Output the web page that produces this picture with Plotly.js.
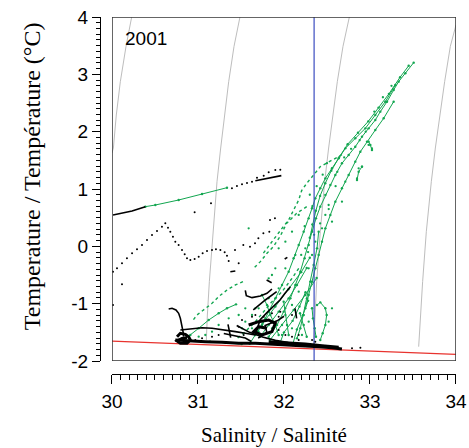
<!DOCTYPE html>
<html><head><meta charset="utf-8">
<script src="https://cdn.plot.ly/plotly-3.0.1.min.js"></script>
<style>html,body{margin:0;padding:0;background:#fff;}#plot{width:469px;height:448px;}</style>
</head><body><div id="plot"></div>
<script>
// Isopycnals (gray)
const isoS1 = [30.229,30.163,30.097,30.050,30.016,30.0];
const isoT1 = [4.0,3.488,2.872,2.291,1.715,1.628];
const isoS2 = [31.488,31.419,31.357,31.306,31.264,31.221,31.174,31.132,31.109,31.097];
const isoT2 = [4.0,3.488,2.872,2.291,1.715,1.128,0.256,-0.616,-1.198,-1.634];
const isoS3 = [32.760,32.686,32.620,32.566,32.519,32.473,32.422,32.380,32.357,32.345];
const isoT3 = [4.0,3.488,2.872,2.291,1.715,1.128,0.256,-0.616,-1.198,-1.721];
const isoS4 = [34.0,33.934,33.868,33.810,33.760,33.713,33.655,33.612,33.585,33.566];
const isoT4 = [3.86,3.488,2.872,2.291,1.715,1.128,0.256,-0.616,-1.198,-1.750];
// Freezing line and reference salinity
const frzS = [30, 34];
const frzT = [-1.655, -1.885];
const refS = [32.35, 32.35];
const refT = [-2, 4];
// Tick labels
const yTickVals = [-2,-1,0,1,2,3,4];
const yTickText = ['-2','-1','0','1','2','3','4'];
const xTickVals = [30,31,32,33,34];
const xTickText = ['30','31','32','33','34'];
// Green dense tracks (null separates tracks)
const gDenseS = [
 33.508,33.411,33.333,33.275,33.198,33.120,33.062,32.984,32.907,32.829,32.752,32.674,32.597,32.539,32.481,32.422,32.372,32.326,32.287,32.240,32.190,32.132,32.074,31.996,31.919,31.822,null,
 33.275,33.159,33.062,32.965,32.888,32.829,32.752,32.674,32.597,32.539,32.481,32.442,32.403,32.364,32.326,32.287,32.248,null,
 33.295,33.178,33.062,32.946,32.829,32.713,32.636,32.558,32.481,32.422,32.364,32.326,32.287,32.229,32.171,32.112,32.054,31.977,31.899,31.822,31.744,31.667,null,
 33.45,33.35,33.22,33.10,32.98,32.86,32.74,32.64,32.55,32.48,32.42,32.37,32.33,32.30,null,
 32.403,32.384,32.345,32.306,32.267,32.229,32.190,32.151,null,
 32.384,32.422,32.481,32.496,32.481,32.450,32.422,null,
 32.186,32.229,32.264,null,
 32.326,32.337,32.357,32.372,null,
 31.996,32.016,32.035,32.054,null,
 31.744,31.802,31.841,31.899,31.938,null,
 31.442,31.337,31.240,31.124,31.008,30.911,30.833,null,
 31.140,31.318,31.508,null,
 31.721,31.822,31.938,32.054,32.151,32.264,null,
 31.837,31.977,32.112,32.248,32.380,null,
 31.60,31.75,31.90,32.05,32.20,32.30,null,
 32.10,32.15,32.22,32.28,null,
 31.95,32.00,32.10,32.18,32.25,null,
 30.388,30.504,30.775,31.047,31.337,null,
 32.907,32.868,32.849,null,
 32.984,33.004,33.023
];
const gDenseT = [
 3.204,3.018,2.872,2.727,2.523,2.349,2.203,2.058,1.913,1.738,1.593,1.448,1.244,1.070,0.895,0.692,0.488,0.256,0.023,-0.209,-0.442,-0.674,-0.907,-1.139,-1.372,-1.576,null,
 2.523,2.233,2.029,1.826,1.651,1.477,1.244,1.012,0.779,0.547,0.314,0.082,-0.151,-0.384,-0.616,-0.849,-1.081,null,
 2.814,2.523,2.291,2.058,1.884,1.709,1.535,1.361,1.186,1.012,0.837,0.663,0.488,0.256,0.023,-0.209,-0.442,-0.674,-0.907,-1.139,-1.372,-1.546,null,
 3.15,2.95,2.66,2.42,2.18,1.98,1.78,1.55,1.32,1.10,0.88,0.62,0.38,0.15,null,
 0.256,-0.035,-0.325,-0.616,-0.907,-1.198,-1.430,-1.605,null,
 -1.023,-0.977,-1.081,-1.198,-1.372,-1.517,-1.634,null,
 -1.168,-1.372,-1.576,null,
 -1.081,-1.256,-1.430,-1.576,null,
 -0.965,-1.198,-1.372,-1.546,null,
 -0.849,-1.023,-1.198,-1.372,-1.546,null,
 -1.012,-1.081,-1.168,-1.285,-1.430,-1.546,-1.634,null,
 -1.663,-1.680,-1.704,null,
 -1.576,-1.372,-1.139,-0.907,-0.674,-0.378,null,
 -1.634,-1.372,-1.110,-0.849,-0.553,null,
 -1.70,-1.35,-1.05,-0.75,-0.45,-0.20,null,
 -1.72,-1.45,-1.20,-0.95,null,
 -1.70,-1.50,-1.30,-1.05,-0.80,null,
 0.692,0.721,0.808,0.913,1.023,null,
 1.390,1.302,1.157,null,
 1.826,1.768,1.680
];
// Green sparse (dotted) tracks
const gSparseS = [
 32.674,32.519,32.422,32.360,32.264,32.205,32.171,32.112,32.054,31.977,31.919,31.860,31.802,31.744,null,
 32.264,32.147,32.031,31.953,31.876,31.802,31.725,31.647,null,
 32.171,32.093,31.977,31.860,31.764,31.667,31.550,31.434,null,
 31.523,31.434,31.337,31.240,31.163,31.066,30.988,30.930
];
const gSparseT = [
 1.599,1.477,1.390,1.273,1.099,0.971,0.808,0.634,0.459,0.314,0.198,0.082,-0.035,-0.151,null,
 0.692,0.576,0.401,0.169,-0.006,-0.122,-0.267,-0.384,null,
 -0.384,-0.558,-0.791,-0.965,-1.139,-1.314,-1.488,-1.634,null,
 -0.616,-0.674,-0.762,-0.878,-0.994,-1.110,-1.198,-1.314
];
const gDotS = [33.023,32.984,32.868,32.849,32.907,32.713,32.674,32.558,32.171,32.093,32.016,31.938,31.899,31.822,32.016,32.132,32.248,32.364,32.481,32.519,32.442,32.326,32.287,32.171,32.093,31.822,31.705,31.628,31.550,31.512,31.667,31.783,32.016,31.938,31.860,31.550,31.473,31.357,31.240,31.163,31.085,31.008,31.628,31.705,32.558,32.519,32.287,32.209,32.093,31.977,31.860,31.589,
 32.30,32.38,32.45,32.52,32.60,32.35,32.42,32.28,32.50,32.62,32.70,32.78,32.88,32.95,33.05,33.15,33.25,32.33,32.24,32.20];
const gDotT = [1.709,1.768,1.361,1.186,1.390,1.128,0.779,0.430,0.547,0.256,0.082,-0.035,-0.384,-0.558,-0.384,-0.151,-0.035,0.082,0.547,0.721,0.314,-0.151,-0.384,-0.791,-1.023,-0.907,-1.081,-1.198,-1.314,-1.430,-1.081,-1.256,-1.081,-0.732,-0.500,-1.081,-1.198,-1.256,-1.372,-1.488,-1.546,-1.576,-1.430,-1.488,-1.081,-1.314,-1.314,-1.546,-1.430,-1.546,-1.430,0.314,
 0.90,1.05,1.25,0.65,1.05,0.20,0.40,-0.10,1.45,1.30,1.55,1.70,1.85,2.00,2.35,2.60,2.80,0.70,0.35,-0.15];
// Black tracks (thin)
const kLineS = [
 30.012,30.233,30.388,null,
 31.667,31.969,null,
 30.659,30.698,30.744,30.775,30.795,30.814,30.826,30.833,null,
 30.795,30.930,31.047,31.163,31.318,31.434,31.550,31.667,null,
 31.667,31.721,31.802,31.876,31.953,32.012,32.074,null,
 31.550,31.562,31.628,31.725,31.802,31.860,null,
 31.798,31.857,null,
 32.128,32.147,null,
 32.008,32.039,null,
 31.349,31.364,31.380,null,
 31.376,31.434,null,
 31.643,31.783,31.915,null,
 31.45,31.60,31.75,31.90,32.05,32.20,null,
 31.70,31.80,31.78,31.92,32.00,null,
 31.30,31.42,31.55,31.62
];
const kLineT = [
 0.547,0.616,0.692,null,
 1.145,1.233,null,
 -1.093,-1.081,-1.110,-1.168,-1.256,-1.372,-1.488,-1.576,null,
 -1.459,-1.442,-1.419,-1.430,-1.459,-1.488,-1.517,-1.546,null,
 -1.546,-1.285,-1.157,-1.052,-0.936,-0.820,-0.704,null,
 -0.767,-0.860,-0.895,-0.866,-0.820,-0.744,null,
 -0.588,-0.634,null,
 -1.081,-1.256,null,
 -0.221,-0.192,null,
 -1.360,-1.477,-1.593,null,
 -0.442,-0.430,null,
 -1.110,-0.936,-0.791,null,
 -1.38,-1.50,-1.58,-1.64,-1.68,-1.71,null,
 -1.60,-1.50,-1.38,-1.30,-1.22,null,
 -1.52,-1.56,-1.60,-1.66
];
// Black dense masses (thick)
const kMassS = [
 30.756,30.795,30.853,30.891,30.911,30.872,30.795,30.756,30.814,30.872,null,
 30.736,30.891,31.085,31.279,31.473,31.667,31.860,32.054,32.248,32.403,32.558,32.674,null,
 31.822,32.054,32.248,32.442,32.636,null,
 31.589,31.705,31.822,31.899,31.860,31.744,31.647,31.705,31.802
];
const kMassT = [
 -1.576,-1.517,-1.535,-1.576,-1.634,-1.692,-1.692,-1.651,-1.605,-1.593,null,
 -1.634,-1.651,-1.663,-1.674,-1.692,-1.692,-1.704,-1.721,-1.739,-1.750,-1.768,-1.791,null,
 -1.663,-1.680,-1.704,-1.733,-1.762,null,
 -1.372,-1.314,-1.285,-1.343,-1.488,-1.546,-1.488,-1.401,-1.430
];
const kDotS = [31.395,31.453,31.512,31.570,31.628,31.686,31.764,31.822,31.899,31.957,
 30.012,30.058,30.116,30.174,30.233,30.291,30.349,30.407,30.465,30.523,30.581,30.620,30.651,30.678,30.709,30.736,30.775,30.814,30.845,30.872,30.911,30.961,31.008,31.054,31.105,31.163,31.209,31.260,31.310,31.337,31.357,
 30.116,30.012,31.151,30.961,
 31.430,31.527,31.605,31.663,31.702,31.760,31.829,31.837,31.895,31.473,
 31.163,31.240,31.473,31.512,31.628,31.764,31.938,32.016,32.093,32.171,32.326,32.364,32.171,31.938,31.860,31.531,30.969,31.047,32.791,32.888,32.093,31.957,31.667];
const kDotT = [1.012,1.052,1.081,1.105,1.128,1.198,1.233,1.291,1.331,1.337,
 -0.442,-0.384,-0.296,-0.209,-0.122,-0.052,0.023,0.111,0.198,0.268,0.343,0.401,0.326,0.256,0.169,0.082,0.023,-0.064,-0.140,-0.209,-0.238,-0.221,-0.180,-0.122,-0.081,-0.064,-0.052,-0.064,-0.105,-0.163,-0.256,
 -0.663,-1.023,0.750,0.593,
 -0.064,0.023,-0.006,0.052,0.140,0.227,0.256,0.459,0.488,-0.296,
 -1.576,-1.546,-1.401,-1.285,-1.227,-1.227,-1.459,-1.546,-1.576,-1.634,-1.634,-1.663,-1.546,-1.227,-1.168,-1.546,-1.634,-1.605,-1.779,-1.768,-1.198,-1.139,-1.198];
const yearLabel = '2001';

const GREEN = '#12a650';
const iso = (s, t) => ({x: s, y: t, mode: 'lines', line: {color: '#bdbdbd', width: 1}, hoverinfo: 'skip'});
const traces = [
 iso(isoS1, isoT1), iso(isoS2, isoT2), iso(isoS3, isoT3), iso(isoS4, isoT4),
 {x: frzS, y: frzT, mode: 'lines', line: {color: '#e8332e', width: 1.2}},
 {x: gDenseS, y: gDenseT, mode: 'lines+markers', connectgaps: false, line: {color: GREEN, width: 1}, marker: {color: GREEN, size: 2.4}},
 {x: gSparseS, y: gSparseT, mode: 'lines', connectgaps: false, line: {color: GREEN, width: 1.4, dash: 'dot'}},
 {x: gDotS, y: gDotT, mode: 'markers', marker: {color: GREEN, size: 2.3}},
 {x: refS, y: refT, mode: 'lines', line: {color: '#3a4cc0', width: 1.2}},
 {x: kLineS, y: kLineT, mode: 'lines', connectgaps: false, line: {color: '#000', width: 1.6}},
 {x: kMassS, y: kMassT, mode: 'lines', connectgaps: false, line: {color: '#000', width: 3}},
 {x: kDotS, y: kDotT, mode: 'markers', marker: {color: '#000', size: 2}}
];
const tickFont = {family: 'Liberation Sans, Arial, sans-serif', size: 19, color: '#000'};
const layout = {
 width: 469, height: 448, showlegend: false,
 paper_bgcolor: '#fff', plot_bgcolor: '#fff',
 margin: {l: 100, r: 13, t: 17, b: 74},
 xaxis: {range: [30, 34], domain: [0.0337, 1], anchor: 'free', position: 0,
   showline: true, linecolor: '#000', linewidth: 1, showgrid: false, zeroline: false,
   ticks: 'outside', ticklen: 9, tickwidth: 1, tickcolor: '#000',
   tickmode: 'array', tickvals: xTickVals, ticktext: xTickText,
   ticklabelstandoff: 1,
   minor: {tickmode: 'linear', tick0: 30, dtick: 0.1, ticks: 'outside', ticklen: 5, tickcolor: '#000', tickwidth: 1, showgrid: false},
   tickfont: tickFont},
 yaxis: {range: [-2, 4], domain: [0.0364, 1], anchor: 'free', position: 0,
   showline: true, linecolor: '#000', linewidth: 1, showgrid: false, zeroline: false,
   ticks: 'outside', ticklen: 8, tickwidth: 1, tickcolor: '#000',
   tickmode: 'array', tickvals: yTickVals, ticktext: yTickText,
   minor: {tickmode: 'linear', tick0: -2, dtick: 0.1, ticks: 'outside', ticklen: 4, tickcolor: '#000', tickwidth: 1, showgrid: false},
   tickfont: tickFont},
 shapes: [{type: 'rect', xref: 'x', yref: 'y', x0: 30, x1: 34, y0: -2, y1: 4,
   line: {color: '#333', width: 1.5}, layer: 'above'}],
 annotations: [
  {text: yearLabel, xref: 'x', yref: 'y', x: 30.13, y: 3.62, xanchor: 'left', yanchor: 'middle',
   showarrow: false, font: {family: 'Liberation Sans, Arial, sans-serif', size: 19, color: '#000'}},
  {text: 'Salinity / Salinité', xref: 'paper', yref: 'paper', x: 0.49, y: -0.172,
   xanchor: 'center', yanchor: 'middle', showarrow: false,
   font: {family: 'Liberation Serif, Times New Roman, serif', size: 21, color: '#000'}},
  {text: 'Temperature / Température (°C)', xref: 'paper', yref: 'paper', x: -0.19, y: 0.555,
   xanchor: 'center', yanchor: 'middle', textangle: -90, showarrow: false,
   font: {family: 'Liberation Serif, Times New Roman, serif', size: 24, color: '#000'}}
 ]
};
Plotly.newPlot('plot', traces, layout, {staticPlot: true, displayModeBar: false});
</script></body></html>
